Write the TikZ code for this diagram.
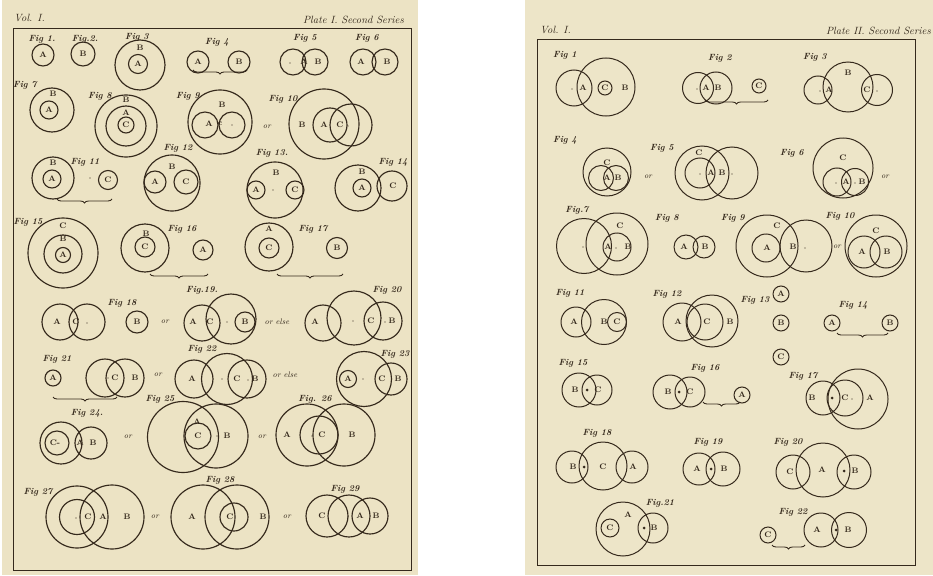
\documentclass[tikz,border=0pt]{standalone}
\usetikzlibrary{decorations.pathreplacing}
\definecolor{ink}{HTML}{35291C}
\definecolor{paperL}{HTML}{ECE3C4}
\definecolor{paperR}{HTML}{EDE5C8}
\newcounter{nn}
\newcommand\cir[3]{\draw[circ] (#1,#2) circle (#3pt);}
\newcommand\lb[3]{\stepcounter{nn}\node[lab] (n\thenn) at (#1,#2) {#3};}
\newcommand\fg[3]{\stepcounter{nn}\node[figl] (n\thenn) at (#1,#2) {#3};}
\newcommand\orr[3]{\stepcounter{nn}\node[orl] (n\thenn) at (#1,#2) {#3};}
\newcommand\dt[2]{\fill[ink] (#1,#2) circle (0.6pt);}
\newcommand\bd[2]{\fill[ink] (#1,#2) circle (1.5pt);}
\newcommand\brc[3]{\draw[brcs] (#1,#3) -- (#2,#3);}
\begin{document}
\begin{tikzpicture}[x=1pt,y=-1pt,
  circ/.style={draw=ink,line width=1.15pt},
  lab/.style={font=\fontsize{8}{8}\selectfont\bfseries,text=ink,inner sep=0pt},
  figl/.style={font=\fontsize{9}{9}\selectfont\bfseries\itshape,text=ink,inner sep=0pt},
  orl/.style={font=\fontsize{8}{8}\selectfont\itshape,text=ink,inner sep=0pt},
  ttl/.style={font=\fontsize{10.5}{10.5}\selectfont\itshape,text=ink,inner sep=0pt},
  brcs/.style={draw=ink,line width=0.9pt,decorate,decoration={brace,mirror,amplitude=4pt}},
  frm/.style={draw=ink,line width=0.9pt}]
\useasboundingbox (0,0) rectangle (933,575);
\fill[white] (0,0) rectangle (933,575);
\fill[paperL] (2,0) rectangle (418,575);
\fill[paperR] (525,0) rectangle (933,575);
% ================= LEFT PLATE =================
\draw[frm] (13,28) rectangle (411,570);
\node[ttl,anchor=west] (vol1) at (14,18) {Vol. I.};
\node[ttl,anchor=east] (pl1) at (404,20) {Plate I. Second Series};
% Fig 1-6
\fg{42}{39}{Fig 1.} \cir{43}{55}{11} \lb{43}{55}{A}
\fg{85}{39}{Fig.2.} \cir{83}{54}{12} \lb{83}{54}{B}
\fg{137}{37}{Fig 3} \cir{140}{65}{25} \cir{138}{64}{9.5} \lb{140}{48}{B} \lb{138}{64}{A}
\fg{217}{42}{Fig 4} \cir{198}{62}{11} \cir{239}{62}{11} \lb{198}{62}{A} \lb{239}{62}{B} \brc{193}{247}{70}
\fg{305}{38}{Fig 5} \cir{293}{62}{13} \cir{315}{62}{13} \dt{290}{63} \lb{304}{62}{A} \lb{318}{62}{B}
\fg{367}{38}{Fig 6} \cir{363}{62}{13} \cir{385}{62}{13} \lb{361}{62}{A} \lb{387}{62}{B}
% Fig 7-10
\fg{25}{85}{Fig 7} \cir{52}{110}{22} \cir{49}{110}{9} \lb{53}{94}{B} \lb{49}{110}{A}
\fg{100}{96}{Fig 8} \cir{126}{126}{31} \cir{126}{126}{20} \cir{126}{125}{8} \lb{126}{100}{B} \lb{126}{113}{A} \lb{126}{125}{C}
\fg{188}{96}{Fig 9} \cir{220}{122}{32} \cir{205}{125}{13} \cir{232}{125}{13} \lb{222}{105}{B} \lb{209}{124}{A} \lb{220}{124}{c} \dt{232}{125}
\orr{267}{127}{or}
\fg{283}{99}{Fig 10} \cir{324}{124}{35} \cir{330}{125}{17} \cir{351}{125}{21} \lb{302}{125}{B} \lb{324}{125}{A} \lb{340}{125}{C} \dt{348}{126}
% Fig 11-14
\fg{85}{162}{Fig 11} \cir{53}{178}{21} \cir{52}{179}{9} \lb{53}{163}{B} \lb{52}{179}{A} \dt{90}{178} \cir{108}{180}{9.5} \lb{108}{180}{C} \brc{57}{112}{199}
\fg{178}{148}{Fig 12} \cir{172}{183}{28} \cir{155}{182}{11} \cir{186}{182}{12} \lb{155}{182}{A} \lb{186}{182}{C} \lb{172}{167}{B}
\fg{272}{153}{Fig 13.} \cir{275}{190}{28} \cir{256}{190}{9} \cir{295}{190}{9} \lb{256}{190}{A} \lb{295}{190}{C} \lb{276}{173}{B} \dt{273}{190}
\fg{393}{162}{Fig 14} \cir{358}{188}{23} \cir{362}{188}{9} \cir{392}{186}{15} \lb{362}{188}{A} \lb{393}{186}{C} \lb{362}{172}{B}
% Fig 15-17
\fg{28}{222}{Fig 15} \cir{63}{253}{35} \cir{63}{254}{19} \cir{63}{255}{7.5} \lb{63}{226}{C} \lb{63}{239}{B} \lb{63}{255}{A}
\fg{182}{229}{Fig 16} \cir{145}{248}{24} \cir{145}{247}{10} \lb{145}{247}{C} \lb{146}{234}{B} \cir{203}{250}{10} \lb{203}{250}{A} \brc{150}{208}{274}
\fg{313}{229}{Fig 17} \cir{269}{247}{24} \cir{269}{248}{10} \lb{269}{248}{C} \lb{269}{229}{A} \cir{337}{248}{10.5} \lb{337}{248}{B} \brc{277}{343}{274}
% Fig 18-20
\fg{122}{303}{Fig 18} \cir{60}{322}{18} \cir{87}{322}{18} \lb{57}{322}{A} \lb{76}{322}{C} \dt{87}{323} \cir{137}{322}{11} \lb{137}{322}{B}
\orr{165}{322}{or}
\fg{202}{290}{Fig.19.} \cir{202}{323}{18} \cir{231}{319}{25} \cir{245}{322}{10} \lb{193}{322}{A} \lb{210}{322}{C} \dt{227}{322} \lb{245}{322}{B}
\orr{277}{322}{or else}
\fg{387}{290}{Fig 20} \cir{323}{323}{18} \cir{354}{318}{27} \cir{383}{321}{19} \lb{315}{322}{A} \dt{353}{321} \lb{371}{321}{C} \dt{385}{322} \lb{392}{321}{B}
% Fig 21-23
\fg{57}{359}{Fig 21} \cir{53}{378}{8} \lb{53}{378}{A} \cir{105}{378}{19} \cir{125}{378}{19} \dt{108}{378} \lb{115}{378}{C} \lb{135}{378}{B} \brc{53}{117}{397}
\orr{158}{375}{or}
\fg{202}{349}{Fig 22} \cir{194}{379}{19} \cir{227}{379}{25.5} \cir{247}{379}{19} \lb{192}{379}{A} \dt{222}{379} \lb{237}{379}{C} \dt{248}{380} \lb{255}{379}{B}
\orr{285}{375}{or else}
\fg{395}{354}{Fig 23} \cir{364}{379}{27.5} \cir{348}{379}{8.5} \lb{348}{379}{A} \cir{391}{379}{16} \dt{363}{379} \lb{382}{379}{C} \lb{398}{379}{B}
% Fig 24-26
\fg{87}{413}{Fig 24.} \cir{61}{443}{21} \cir{57}{443}{12} \cir{91}{443}{16} \lb{55}{443}{C-} \lb{80}{443}{A} \lb{93}{443}{B}
\orr{128}{437}{or}
\fg{160}{399}{Fig 25} \cir{183}{437}{35.5} \cir{216}{436}{32} \cir{198}{436}{13} \lb{198}{436}{C} \lb{197}{422}{A} \lb{227}{436}{B} \dt{217}{436}
\orr{262}{437}{or}
\fg{315}{399}{Fig. 26} \cir{307}{435}{31} \cir{344}{435}{31} \cir{319}{435}{19} \lb{287}{435}{A} \dt{312}{436} \lb{322}{435}{C} \lb{352}{435}{B}
% Fig 27-29
\fg{38}{492}{Fig 27} \cir{77}{517}{31} \cir{112}{517}{32} \cir{77}{517}{17.5} \dt{76}{518} \lb{88}{517}{C} \lb{103}{517}{A} \lb{127}{517}{B}
\orr{155}{517}{or}
\fg{220}{480}{Fig 28} \cir{203}{517}{32} \cir{237}{517}{32} \cir{234}{517}{14} \lb{192}{517}{A} \lb{230}{517}{C} \lb{263}{517}{B}
\orr{287}{517}{or}
\fg{345}{489}{Fig 29} \cir{327}{516}{21} \cir{349}{516}{21} \cir{370}{516}{18} \lb{322}{516}{C} \dt{348}{517} \lb{360}{516}{A} \lb{376}{516}{B}
% ================= RIGHT PLATE =================
\begin{scope}[circ/.style={draw=ink,line width=1pt}]
\draw[frm] (537,39) rectangle (915,565);
\node[ttl,anchor=west] (vol2) at (540,30) {Vol. I.};
\node[ttl,anchor=east] (pl2) at (931,31) {Plate II. Second Series};
\fg{565}{55}{Fig 1} \cir{574}{88}{18} \cir{606}{87}{29} \cir{605}{88}{7} \lb{605}{88}{C} \dt{572}{89} \lb{583}{88}{A} \lb{625}{88}{B}
\fg{720}{58}{Fig 2} \cir{698}{88}{15.5} \cir{716}{88}{16} \cir{759}{86}{7} \lb{759}{86}{C} \dt{697}{89} \lb{706}{88}{A} \lb{718}{88}{B} \brc{705}{768}{100}
\fg{815}{57}{Fig 3} \cir{818}{90}{14} \cir{848}{87}{25} \cir{877}{90}{15.5} \dt{820}{91} \lb{829}{90}{A} \lb{848}{73}{B} \lb{867}{90}{C} \dt{877}{91}
\fg{565}{140}{Fig 4} \cir{607}{172}{24} \cir{601}{178}{12.5} \cir{616}{178}{12.5} \lb{607}{163}{C} \lb{607}{178}{A} \lb{618}{178}{B}
\orr{648}{177}{or}
\fg{662}{148}{Fig 5} \cir{702}{173}{27} \cir{700}{173}{15} \cir{732}{173}{26} \lb{699}{153}{C} \dt{700}{174} \lb{711}{173}{A} \lb{722}{173}{B} \dt{732}{174}
\fg{792}{153}{Fig 6} \cir{843}{168}{30} \cir{837}{182}{14} \cir{855}{182}{13.5} \lb{843}{158}{C} \dt{836}{183} \lb{846}{182}{A} \dt{855}{183} \lb{862}{182}{B}
\orr{885}{177}{or}
\fg{577}{210}{Fig.7} \cir{584}{246}{27.5} \cir{617}{244}{31} \cir{617}{247}{14} \lb{620}{226}{C} \lb{608}{247}{A} \dt{616}{248} \lb{628}{247}{B} \dt{583}{247}
\fg{667}{218}{Fig 8} \cir{686}{247}{12} \cir{704}{247}{11} \lb{684}{247}{A} \lb{705}{247}{B}
\fg{733}{218}{Fig 9} \cir{767}{246}{31} \cir{806}{246}{26} \cir{766}{248}{14} \lb{777}{226}{C} \lb{767}{248}{A} \lb{793}{247}{B} \dt{805}{248}
\orr{837}{247}{or}
\fg{840}{216}{Fig 10} \cir{876}{246}{31} \cir{864}{252}{16} \cir{886}{252}{16} \lb{876}{231}{C} \lb{862}{252}{A} \lb{887}{252}{B}
\fg{570}{293}{Fig 11} \cir{576}{322}{15} \cir{604}{322}{22.5} \cir{617}{322}{9.5} \lb{574}{322}{A} \lb{604}{322}{B} \lb{617}{322}{C}
\fg{667}{294}{Fig 12} \cir{682}{322}{19} \cir{705}{322}{18} \cir{712}{321}{26} \lb{678}{322}{A} \lb{707}{322}{C} \lb{730}{322}{B}
\fg{755}{300}{Fig 13} \cir{781}{294}{8} \lb{781}{294}{A} \cir{781}{323}{8} \lb{781}{323}{B} \cir{781}{357}{8} \lb{781}{357}{C}
\fg{853}{305}{Fig 14} \cir{832}{323}{8} \lb{832}{323}{A} \cir{890}{323}{8} \lb{890}{323}{B} \brc{837}{888}{333}
\fg{573}{363}{Fig 15} \cir{579}{390}{17} \cir{597}{390}{15} \lb{575}{390}{B} \bd{587}{390} \lb{598}{390}{C}
\fg{705}{368}{Fig 16} \cir{670}{392}{17} \cir{690}{392}{15} \lb{668}{392}{B} \bd{679}{392} \lb{690}{392}{C} \cir{742}{395}{8} \lb{742}{395}{A} \brc{703}{740}{402}
\fg{803}{376}{Fig 17} \cir{823}{398}{17} \cir{845}{398}{18} \cir{858}{399}{30} \lb{812}{398}{B} \bd{832}{398} \lb{845}{398}{C} \dt{852}{399} \lb{870}{398}{A}
\fg{597}{433}{Fig 18} \cir{572}{467}{16} \cir{603}{466}{24} \cir{632}{467}{16} \lb{573}{467}{B} \bd{584}{467} \lb{603}{467}{C} \lb{633}{467}{A}
\fg{708}{442}{Fig 19} \cir{699}{469}{16} \cir{723}{469}{17} \lb{697}{469}{A} \bd{711}{469} \lb{724}{469}{B}
\fg{788}{442}{Fig 20} \cir{793}{472}{17} \cir{823}{470}{27} \cir{854}{472}{17} \lb{790}{472}{C} \lb{822}{470}{A} \bd{844}{471} \lb{855}{471}{B}
\fg{660}{503}{Fig.21} \cir{623}{529}{27} \cir{610}{528}{9} \lb{610}{528}{C} \cir{653}{528}{15} \lb{628}{515}{A} \bd{644}{528} \lb{654}{528}{B}
\fg{793}{512}{Fig 22} \cir{768}{535}{8} \lb{768}{535}{C} \cir{821}{530}{17} \cir{849}{530}{17.5} \lb{817}{530}{A} \bd{836}{530} \lb{848}{530}{B} \brc{772}{805}{545}
\end{scope}
\end{tikzpicture}
\end{document}
